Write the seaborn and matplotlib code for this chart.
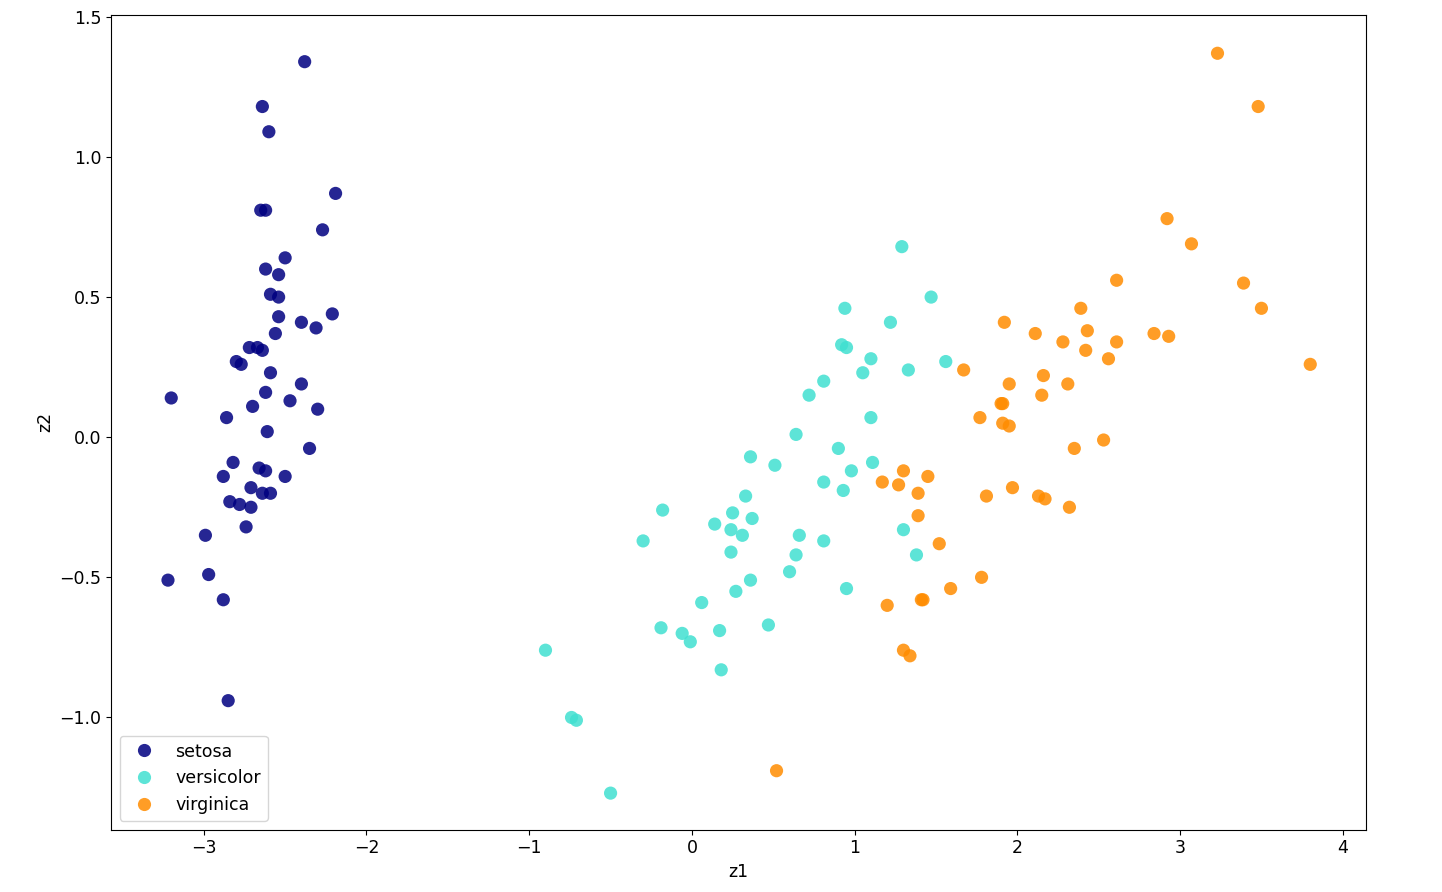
import numpy as np
import pandas as pd
import seaborn as sns
import matplotlib.pyplot as plt

# values (PCA of iris)
setosa_z1 = [-2.38, -2.64, -2.60, -2.19, -2.65, -2.62, -2.27, -2.50, -2.62, -2.54,
             -2.59, -2.54, -2.54, -2.21, -2.40, -2.31, -2.56, -2.72, -2.67, -2.64,
             -2.80, -2.77, -2.59, -2.40, -2.62, -3.20, -2.47, -2.70, -2.30, -2.86,
             -2.61, -2.35, -2.82, -2.66, -2.62, -2.88, -2.50, -2.71, -2.64, -2.59,
             -2.84, -2.78, -2.71, -2.74, -2.99, -3.22, -2.97, -2.88, -2.85]
setosa_z2 = [1.34, 1.18, 1.09, 0.87, 0.81, 0.81, 0.74, 0.64, 0.60, 0.58,
             0.51, 0.50, 0.43, 0.44, 0.41, 0.39, 0.37, 0.32, 0.32, 0.31,
             0.27, 0.26, 0.23, 0.19, 0.16, 0.14, 0.13, 0.11, 0.10, 0.07,
             0.02, -0.04, -0.09, -0.11, -0.12, -0.14, -0.14, -0.18, -0.20, -0.20,
             -0.23, -0.24, -0.25, -0.32, -0.35, -0.51, -0.49, -0.58, -0.94]

versicolor_z1 = [1.29, 0.94, 1.47, 1.22, 0.92, 0.95, 1.10, 1.56, 1.05, 1.33,
                 0.81, 0.72, 1.10, 0.64, 0.90, 0.36, 1.11, 0.98, 0.51, 0.81,
                 0.93, 0.33, -0.18, 0.25, 0.37, 0.14, 0.24, 0.31, 0.66, 1.30,
                 -0.30, 0.81, 0.24, 0.64, 1.38, 0.60, 0.36, 0.95, 0.27, 0.06,
                 0.47, -0.19, 0.17, -0.06, -0.01, 0.18, -0.90, -0.74, -0.71, -0.50]
versicolor_z2 = [0.68, 0.46, 0.50, 0.41, 0.33, 0.32, 0.28, 0.27, 0.23, 0.24,
                 0.20, 0.15, 0.07, 0.01, -0.04, -0.07, -0.09, -0.12, -0.10, -0.16,
                 -0.19, -0.21, -0.26, -0.27, -0.29, -0.31, -0.33, -0.35, -0.35, -0.33,
                 -0.37, -0.37, -0.41, -0.42, -0.42, -0.48, -0.51, -0.54, -0.55, -0.59,
                 -0.67, -0.68, -0.69, -0.70, -0.73, -0.83, -0.76, -1.00, -1.01, -1.27]

virginica_z1 = [3.23, 3.48, 2.92, 3.07, 3.39, 2.61, 2.39, 3.50, 1.92, 2.11,
                2.43, 2.28, 2.61, 2.84, 2.93, 2.42, 2.56, 3.80, 1.67, 2.16,
                1.95, 2.31, 1.90, 1.91, 2.15, 1.77, 1.91, 1.95, 2.53, 2.35,
                1.30, 1.45, 1.17, 1.27, 1.97, 1.39, 1.81, 2.13, 2.17, 2.32,
                1.39, 1.52, 1.78, 1.59, 1.41, 1.42, 1.20, 1.30, 1.34, 0.52]
virginica_z2 = [1.37, 1.18, 0.78, 0.69, 0.55, 0.56, 0.46, 0.46, 0.41, 0.37,
                0.38, 0.34, 0.34, 0.37, 0.36, 0.31, 0.28, 0.26, 0.24, 0.22,
                0.19, 0.19, 0.12, 0.12, 0.15, 0.07, 0.05, 0.04, -0.01, -0.04,
                -0.12, -0.14, -0.16, -0.17, -0.18, -0.20, -0.21, -0.21, -0.22, -0.25,
                -0.28, -0.38, -0.50, -0.54, -0.58, -0.58, -0.60, -0.76, -0.78, -1.19]

df = pd.DataFrame({
    "z1": setosa_z1 + versicolor_z1 + virginica_z1,
    "z2": setosa_z2 + versicolor_z2 + virginica_z2,
    "species": ["setosa"] * len(setosa_z1) + ["versicolor"] * len(versicolor_z1)
               + ["virginica"] * len(virginica_z1),
})

plt.style.use("default")
plt.rcParams["font.size"] = 12.5
fig = plt.figure(figsize=(14.42, 8.92), dpi=100)
ax = fig.add_axes([0.077, 0.07, 0.870, 0.913])
palette = {"setosa": "navy", "versicolor": "turquoise", "virginica": "darkorange"}
sns.scatterplot(data=df, x="z1", y="z2", hue="species", palette=palette,
                alpha=0.85, s=90, edgecolor="none", ax=ax)
ax.set_xlim(-3.57, 4.14)
ax.set_ylim(-1.40, 1.506)
ax.set_xlabel("z1")
ax.set_ylabel("z2")
ax.legend(loc="lower left", title=None)
fig.savefig("out.png", dpi=100)
